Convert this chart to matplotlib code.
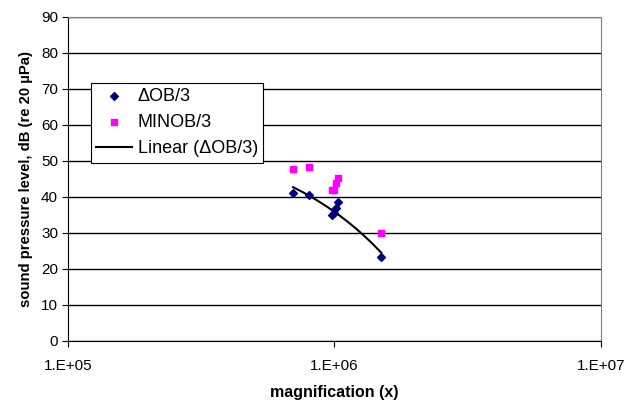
import numpy as np
import matplotlib.pyplot as plt
from matplotlib.ticker import FixedLocator, FuncFormatter, NullLocator

plt.rcParams['font.family'] = ['Liberation Sans', 'DejaVu Sans']

# magnification and levels
mag = [7.0e5, 8.0e5, 9.8e5, 1.0e6, 1.01e6, 1.03e6, 1.5e6]
dob3 = [41.0, 40.5, 35.0, 35.5, 36.9, 38.5, 23.2]
minob3 = [47.8, 48.2, 41.9, 41.9, 43.8, 45.3, 30.1]

fig = plt.figure(figsize=(6.28, 4.03), dpi=100)
ax = fig.add_axes([0.108, 0.154, 0.849, 0.804])

ax.scatter(mag, dob3, marker='D', s=16, color='#000080', label='ΔOB/3', zorder=3)
ax.scatter(mag, minob3, marker='s', s=20, color='#FF00FF', label='MINOB/3', zorder=3)

# linear trendline (fit in linear x, shown on log axis)
k, b = np.polyfit(mag, dob3, 1)
xs = np.linspace(min(mag), max(mag), 100)
ax.plot(xs, k * xs + b, color='black', lw=1.5, label='Linear (ΔOB/3)', zorder=2)

ax.set_xscale('log')
ax.set_xlim(1e5, 1e7)
ax.set_ylim(0, 90)
ax.xaxis.set_major_locator(FixedLocator([1e5, 1e6, 1e7]))
ax.xaxis.set_minor_locator(NullLocator())
ax.xaxis.set_major_formatter(FuncFormatter(lambda v, p: '1.E+%02d' % round(np.log10(v))))
ax.set_yticks(range(0, 91, 10))

ax.grid(axis='y', color='black', lw=1)
ax.set_axisbelow(True)
for s in ['top', 'right']:
    ax.spines[s].set_color('#808080')
for s in ['left', 'bottom']:
    ax.spines[s].set_color('black')
ax.tick_params(axis='y', labelsize=11, length=4, direction='out', pad=3)
ax.tick_params(axis='x', labelsize=11, length=4, direction='out', pad=9)

ax.set_xlabel('magnification (x)', fontsize=11.5, fontweight='bold', labelpad=9)
ax.set_ylabel('sound pressure level, dB (re 20 µPa)', fontsize=10.7, fontweight='bold', labelpad=6)

leg = ax.legend(loc='upper left', bbox_to_anchor=(0.043, 0.797), fontsize=13,
                frameon=True, fancybox=False, edgecolor='black', framealpha=1,
                borderpad=0.3, handlelength=2.0, handletextpad=0.3, labelspacing=0.5,
                borderaxespad=0)
leg.get_frame().set_linewidth(0.8)

fig.savefig('out.png', dpi=100)
